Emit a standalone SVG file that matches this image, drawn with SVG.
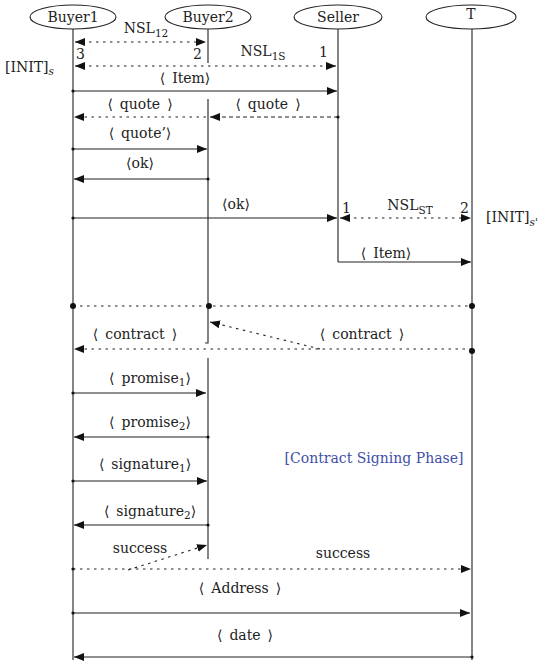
<svg xmlns="http://www.w3.org/2000/svg" width="554" height="662" viewBox="0 0 554 662">
<style>
text{font-family:"DejaVu Serif","Liberation Serif",serif;font-size:14px;fill:#222}
.m{text-anchor:middle}
.sub{font-size:10.5px}
.it{font-style:italic}
.ll{stroke:#333;stroke-width:1.2;fill:none}
.msg{stroke:#222;stroke-width:1.1;fill:none}
.dot{stroke-dasharray:2.5,4.5}
.dash{stroke-dasharray:4,3}
.node ellipse{fill:#fff;stroke:#222;stroke-width:1.1}
.blue{fill:#3f4fa8}
</style>
<defs>
<marker id="ah" viewBox="0 0 10 8" refX="10" refY="4" markerWidth="10" markerHeight="8" markerUnits="userSpaceOnUse" orient="auto-start-reverse"><path d="M0,0 L10,4 L0,8 z" fill="#111"/></marker>
</defs>
<g id="lifelines">
<line class="ll" x1="73" y1="29" x2="73" y2="660"/>
<line class="ll" x1="208" y1="29" x2="208" y2="63"/>
<polyline class="ll" points="208,99 208,343 205,343"/>
<line class="ll" x1="208" y1="358" x2="208" y2="559"/>
<line class="ll" x1="338" y1="29" x2="338" y2="262"/>
<line class="ll" x1="472" y1="29" x2="472" y2="660"/>
</g>
<g id="buyer1" class="node"><ellipse cx="73" cy="17" rx="43" ry="12"/><text class="m" x="73" y="22">Buyer1</text></g>
<g id="buyer2" class="node"><ellipse cx="208" cy="17" rx="43" ry="12"/><text class="m" x="208" y="22">Buyer2</text></g>
<g id="seller" class="node"><ellipse cx="338" cy="17" rx="44" ry="12"/><text class="m" x="338" y="22">Seller</text></g>
<g id="t" class="node"><ellipse cx="471" cy="17" rx="45" ry="12"/><text class="m" x="471" y="19">T</text></g>
<g id="connectors">
<line class="msg dot" x1="75" y1="42" x2="206" y2="42" marker-start="url(#ah)" marker-end="url(#ah)"/>
<line class="msg dot" x1="75" y1="66" x2="336" y2="66" marker-start="url(#ah)" marker-end="url(#ah)"/>
<line class="msg" x1="73" y1="91" x2="337" y2="91" marker-end="url(#ah)"/>
<line class="msg dash" x1="338" y1="117" x2="210" y2="117" marker-end="url(#ah)"/>
<line class="msg dot" x1="206" y1="117" x2="74" y2="117" marker-end="url(#ah)"/>
<line class="msg" x1="73" y1="149" x2="207" y2="149" marker-end="url(#ah)"/>
<line class="msg" x1="208" y1="179" x2="74" y2="179" marker-end="url(#ah)"/>
<line class="msg" x1="73" y1="218" x2="337" y2="218" marker-end="url(#ah)"/>
<line class="msg dot" x1="340" y1="218" x2="471" y2="218" marker-start="url(#ah)" marker-end="url(#ah)"/>
<line class="msg" x1="338" y1="262" x2="471" y2="262" marker-end="url(#ah)"/>
<line class="msg dot" x1="73" y1="306" x2="472" y2="306"/>
<line class="msg dot" x1="320" y1="349" x2="210" y2="322" marker-end="url(#ah)"/>
<line class="msg dot" x1="472" y1="349" x2="74" y2="349" marker-end="url(#ah)"/>
<line class="msg" x1="73" y1="393" x2="206" y2="393" marker-end="url(#ah)"/>
<line class="msg" x1="208" y1="437" x2="74" y2="437" marker-end="url(#ah)"/>
<line class="msg" x1="73" y1="481" x2="207" y2="481" marker-end="url(#ah)"/>
<line class="msg" x1="208" y1="525" x2="74" y2="525" marker-end="url(#ah)"/>
<line class="msg dot" x1="128" y1="570" x2="207" y2="545" marker-end="url(#ah)"/>
<line class="msg dot" x1="73" y1="569" x2="471" y2="569" marker-end="url(#ah)"/>
<line class="msg" x1="73" y1="613" x2="470" y2="613" marker-end="url(#ah)"/>
<line class="msg" x1="472" y1="657" x2="74" y2="657" marker-end="url(#ah)"/>
<g fill="#111">
<circle cx="73" cy="91" r="1.6"/><circle cx="338" cy="117" r="1.6"/><circle cx="73" cy="149" r="1.6"/>
<circle cx="208" cy="179" r="1.6"/><circle cx="73" cy="218" r="1.6"/><circle cx="73" cy="393" r="1.6"/>
<circle cx="208" cy="437" r="1.6"/><circle cx="73" cy="481" r="1.6"/><circle cx="208" cy="525" r="1.6"/>
<circle cx="73" cy="569" r="1.6"/><circle cx="73" cy="613" r="1.6"/><circle cx="472" cy="657" r="1.6"/>
<circle cx="73" cy="306" r="3"/><circle cx="209" cy="306" r="3"/><circle cx="472" cy="306" r="3"/><circle cx="472" cy="351" r="3"/>
</g>
</g>
<g id="labels">
<text class="m" x="146" y="33">NSL<tspan class="sub" dy="4">12</tspan></text>
<text x="76" y="59">3</text>
<text x="193" y="59">2</text>
<text x="5" y="72">[INIT]<tspan class="sub it" dy="3">s</tspan></text>
<text class="m" x="263" y="56">NSL<tspan class="sub" dy="4">1S</tspan></text>
<text x="319" y="57">1</text>
<text class="m" x="185" y="83">⟨&#8194;Item⟩</text>
<text class="m" x="140" y="109">⟨&#8194;quote&#8194;⟩</text>
<text class="m" x="268" y="109">⟨&#8194;quote&#8194;⟩</text>
<text class="m" x="140" y="138">⟨&#8194;quote’⟩</text>
<text class="m" x="140" y="168">⟨ok⟩</text>
<text class="m" x="236" y="209">⟨ok⟩</text>
<text x="342" y="213">1</text>
<text class="m" x="410" y="210">NSL<tspan class="sub" dy="4">ST</tspan></text>
<text x="460" y="213">2</text>
<text x="486" y="222">[INIT]<tspan class="sub it" dy="4">s'</tspan></text>
<text class="m" x="386" y="258">⟨&#8194;Item⟩</text>
<text class="m" x="135" y="339">⟨&#8194;contract&#8194;⟩</text>
<text class="m" x="362" y="339">⟨&#8194;contract&#8194;⟩</text>
<text class="m" x="150" y="383">⟨&#8194;promise<tspan class="sub" dy="3">1</tspan><tspan dy="-3">⟩</tspan></text>
<text class="m" x="150" y="427">⟨&#8194;promise<tspan class="sub" dy="3">2</tspan><tspan dy="-3">⟩</tspan></text>
<text class="m" x="145" y="469">⟨&#8194;signature<tspan class="sub" dy="3">1</tspan><tspan dy="-3">⟩</tspan></text>
<text class="m" x="150" y="516">⟨&#8194;signature<tspan class="sub" dy="3">2</tspan><tspan dy="-3">⟩</tspan></text>
<text class="m blue" x="374" y="463">[Contract Signing Phase]</text>
<text class="m" x="140" y="553">success</text>
<text class="m" x="343" y="558">success</text>
<text class="m" x="240" y="593">⟨&#8194;Address&#8194;⟩</text>
<text class="m" x="245" y="640">⟨&#8194;date&#8194;⟩</text>
</g>
</svg>
